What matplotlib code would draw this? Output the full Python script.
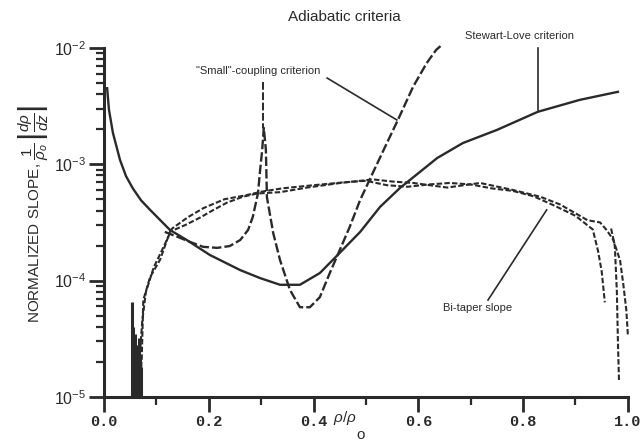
import matplotlib
matplotlib.use("Agg")
import matplotlib.pyplot as plt
from matplotlib.ticker import LogLocator, NullFormatter, MultipleLocator

# Stewart-Love criterion (solid)
sl_x = [0.006, 0.0095, 0.017, 0.0305, 0.042, 0.055, 0.0706, 0.088, 0.126, 0.158, 0.202, 0.260,
        0.298, 0.336, 0.374, 0.412, 0.450, 0.489, 0.527, 0.565, 0.636, 0.685,
        0.750, 0.828, 0.908, 0.981]
sl_y = [4.5e-3, 2.93e-3, 1.86e-3, 1.09e-3, 7.9e-4, 6.2e-4, 4.9e-4, 4.05e-4, 2.72e-4, 2.23e-4, 1.66e-4, 1.23e-4,
        1.05e-4, 9.2e-5, 9.2e-5, 1.16e-4, 1.73e-4, 2.62e-4, 4.3e-4, 6.25e-4, 1.13e-3, 1.52e-3,
        1.97e-3, 2.82e-3, 3.57e-3, 4.19e-3]

# "Small"-coupling criterion (long dashes)
sc_x = [0.116, 0.141, 0.164, 0.189, 0.216, 0.240, 0.260, 0.275, 0.284, 0.294,
        0.298, 0.302, 0.305, 0.309, 0.311, 0.323, 0.336, 0.355, 0.374, 0.393,
        0.412, 0.431, 0.450, 0.469, 0.489, 0.513, 0.540, 0.561, 0.590, 0.616,
        0.634, 0.645]
sc_y = [2.62e-4, 2.37e-4, 2.15e-4, 1.95e-4, 1.91e-4, 1.98e-4, 2.23e-4, 2.72e-4, 3.52e-4, 5.66e-4,
        8.9e-4, 1.33e-3, 2.05e-3, 1.33e-3, 5.2e-4, 2.56e-4, 1.5e-4, 8.3e-5, 5.9e-5, 5.9e-5,
        7.2e-5, 1.16e-4, 1.83e-4, 2.89e-4, 4.93e-4, 8.4e-4, 1.52e-3, 2.4e-3, 4.63e-3, 7.4e-3,
        9.6e-3, 1.06e-2]

# Bi-taper slope, two traces (short dashes)
bt1_x = [0.069, 0.072, 0.075, 0.088, 0.107, 0.126, 0.155, 0.183, 0.210, 0.235,
         0.265, 0.292, 0.336, 0.388, 0.451, 0.514, 0.550, 0.590, 0.655, 0.718,
         0.781, 0.833, 0.871, 0.923, 0.947, 0.960, 0.972, 0.985, 0.991, 0.997, 1.0]
bt1_y = [1.32e-5, 2.1e-5, 6.8e-5, 1.07e-4, 1.51e-4, 2.63e-4, 3.0e-4, 3.47e-4, 4.07e-4, 4.68e-4,
         5.25e-4, 5.6e-4, 5.75e-4, 6.3e-4, 6.9e-4, 7.4e-4, 7.1e-4, 6.9e-4, 6.3e-4, 6.9e-4,
         6.0e-4, 5.25e-4, 4.5e-4, 3.3e-4, 3.16e-4, 2.7e-4, 2.24e-4, 1.5e-4, 9.5e-5, 5.6e-5, 3.4e-5]
bt2_x = [0.066, 0.069, 0.073, 0.080, 0.095, 0.115, 0.130, 0.160, 0.190, 0.230,
         0.270, 0.300, 0.340, 0.400, 0.460, 0.500, 0.540, 0.580, 0.620, 0.660,
         0.700, 0.740, 0.780, 0.820, 0.860, 0.900, 0.933, 0.943, 0.950, 0.956]
bt2_y = [1.2e-5, 2.5e-5, 4.5e-5, 8e-5, 1.3e-4, 2.0e-4, 2.8e-4, 3.5e-4, 4.2e-4, 5.0e-4,
         5.4e-4, 5.8e-4, 6.2e-4, 6.6e-4, 7.0e-4, 7.2e-4, 6.6e-4, 6.4e-4, 6.7e-4, 6.9e-4,
         6.7e-4, 6.2e-4, 5.9e-4, 5.3e-4, 4.4e-4, 3.6e-4, 2.75e-4, 1.8e-4, 1.2e-4, 6.5e-5]
bt3_x = [0.968, 0.975, 0.979, 0.981, 0.983]
bt3_y = [2.8e-4, 2.0e-4, 8e-5, 3e-5, 1.4e-5]

# noisy bars near rho/rho0 ~ 0.06
noise_x = [0.054, 0.056, 0.058, 0.060, 0.062, 0.064, 0.066, 0.068, 0.070]
noise_top = [6.5e-5, 4.0e-5, 3.0e-5, 3.5e-5, 2.8e-5, 2.5e-5, 3.2e-5, 2.2e-5, 1.8e-5]

x_ticks = [0.0, 0.2, 0.4, 0.6, 0.8, 1.0]
x_ticklabels = ["0.0", "0.2", "0.4", "0.6", "0.8", "1.0"]
y_ticks = [1e-5, 1e-4, 1e-3, 1e-2]
y_ticklabels = ["$10^{-5}$", "$10^{-4}$", "$10^{-3}$", "$10^{-2}$"]

plt.rcParams['font.family'] = ['Liberation Sans', 'DejaVu Sans']
plt.rcParams['mathtext.fontset'] = 'custom'
plt.rcParams['mathtext.rm'] = 'Liberation Sans'
plt.rcParams['mathtext.it'] = 'Liberation Sans:italic'

fig = plt.figure(figsize=(6.42, 4.43), dpi=100)
ax = fig.add_axes([0.162, 0.104, 0.816, 0.788])
ink = '#2a2a2a'

ax.plot(sl_x, sl_y, color=ink, lw=1.7, clip_on=False)
ax.plot(sc_x, sc_y, color=ink, lw=1.7, dashes=(4, 1.3), clip_on=False)
ax.plot(bt1_x, bt1_y, color=ink, lw=1.5, dashes=(2.6, 1.1), clip_on=False)
ax.plot(bt2_x, bt2_y, color=ink, lw=1.5, dashes=(2.6, 1.1), clip_on=False)
ax.plot(bt3_x, bt3_y, color=ink, lw=1.5, dashes=(2.6, 1.1), clip_on=False)
ax.vlines(noise_x, 1e-5, noise_top, color=ink, lw=2.2)

ax.set_yscale('log')
ax.set_xlim(0, 1.0)
ax.set_ylim(1e-5, 1e-2)

for s in ['top', 'right']:
    ax.spines[s].set_visible(False)
for s in ['left', 'bottom']:
    ax.spines[s].set_linewidth(2.2)
    ax.spines[s].set_color(ink)

ax.set_xticks(x_ticks)
ax.set_xticklabels(x_ticklabels, family='Liberation Mono', fontweight='bold', fontsize=11)
ax.xaxis.set_minor_locator(MultipleLocator(0.1))
ax.set_yticks(y_ticks)
ax.set_yticklabels(y_ticklabels, fontsize=11.5)
ax.yaxis.set_minor_locator(LogLocator(base=10, subs=range(2, 10)))
ax.yaxis.set_minor_formatter(NullFormatter())
ax.tick_params(which='major', length=11, width=2, color=ink, labelcolor=ink, pad=2)
ax.tick_params(which='minor', length=6, width=1.6, color=ink)

fig.text(0.537, 0.962, "Adiabatic criteria", ha='center', va='center', fontsize=11, color=ink)
fig.text(0.052, 0.517, r"NORMALIZED SLOPE, $\dfrac{1}{\rho_o}\,\left|\dfrac{d\rho}{dz}\right|$",
         rotation=90, ha='center', va='center', fontsize=11, color=ink)
ax.text(0.46, -0.035, r"$\rho/\rho$", transform=ax.transAxes, ha='center', va='top',
        fontsize=11, color=ink)
ax.text(0.49, -0.09, "o", transform=ax.transAxes, ha='center', va='top',
        fontsize=11, color=ink)

# labels with leader lines
ax.text(0.794, 1.27e-2, "Stewart-Love criterion", ha='center', va='center', fontsize=8, color=ink, clip_on=False)
ax.plot([0.828, 0.828], [1.0e-2, 2.93e-3], color=ink, lw=1.2, clip_on=False)

ax.text(0.294, 6.3e-3, "\"Small\"-coupling criterion", ha='center', va='center', fontsize=8, color=ink)
ax.plot([0.304, 0.304], [5.1e-3, 2.05e-3], color=ink, lw=1.4, dashes=(4, 1.3))
ax.plot([0.426, 0.559], [5.5e-3, 2.4e-3], color=ink, lw=1.2)

ax.text(0.714, 5.8e-5, "Bi-taper slope", ha='center', va='center', fontsize=8, color=ink)
ax.plot([0.733, 0.845], [6.8e-5, 4.05e-4], color=ink, lw=1.2)

fig.savefig("out.png", dpi=100)
